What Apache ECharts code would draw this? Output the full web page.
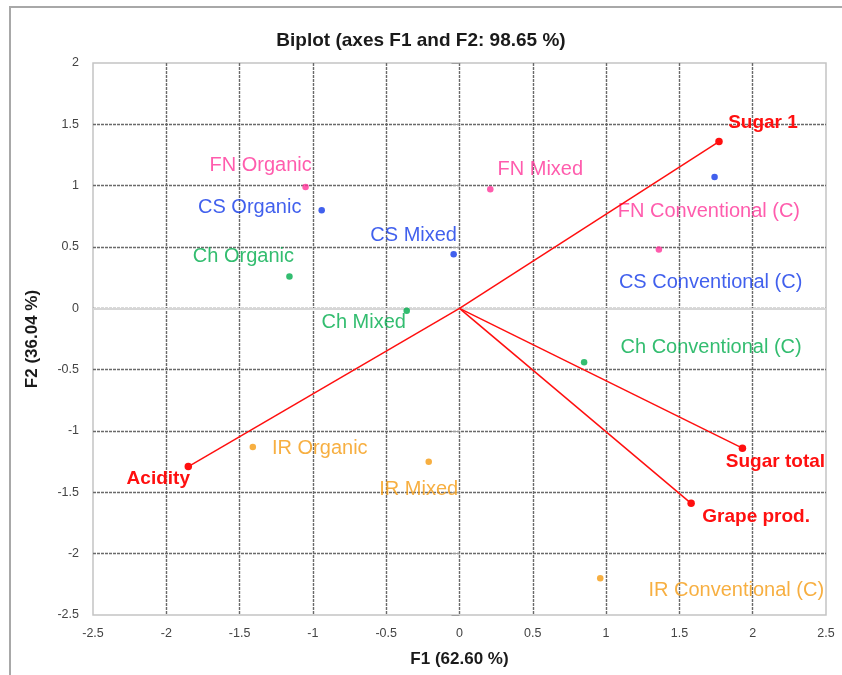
<!DOCTYPE html>
<html>
<head>
<meta charset="utf-8">
<script src="https://cdn.jsdelivr.net/npm/echarts@6/dist/echarts.min.js"></script>
<style>
html,body{margin:0;padding:0;background:#fff;}
#c{width:842px;height:675px;}
</style>
</head>
<body>
<div id="c"></div>
<script>
// Observations (F1, F2)
const obsNames = ['FN Organic','CS Organic','Ch Organic','CS Mixed','Ch Mixed','FN Mixed',
  'FN Conventional (C)','CS Conventional (C)','Ch Conventional (C)','IR Organic','IR Mixed','IR Conventional (C)'];
const obsF1 = [-1.05,-0.94,-1.16,-0.04,-0.36,0.21,1.36,1.74,0.85,-1.41,-0.21,0.96];
const obsF2 = [0.99,0.80,0.26,0.44,-0.02,0.97,0.48,1.07,-0.44,-1.13,-1.25,-2.20];

// Variables (loadings)
const varNames = ['Sugar 1','Sugar total','Grape prod.','Acidity'];
const varF1 = [1.77,1.93,1.58,-1.85];
const varF2 = [1.36,-1.14,-1.59,-1.29];

// Axis ticks
const xTicks = [-2.5,-2,-1.5,-1,-0.5,0,0.5,1,1.5,2,2.5];
const yTicks = [-2.5,-2,-1.5,-1,-0.5,0,0.5,1,1.5,2];

// ---- styling / layout (not data) ----
const groupColors = {FN:'#ff3399', CS:'#1238e8', Ch:'#00ad4c', IR:'#f59b12'};
const red = '#ff0f0f';
const obsLabelOffsets = [[-45,-21],[-72,-3],[-46,-20],[-40,-19],[-43,12],[50,-20],
  [50,-38],[-4,105],[127,-15],[67,2],[-10,28],[136,12]];
const varLabelOffsets = [[44,-19],[33,14],[65,13],[-30,12]];

const font = "'Liberation Sans', Arial, sans-serif";

const series = [];
series.push({
  type:'scatter',
  z:3,
  symbol:'circle',
  symbolSize:6.5,
  data: obsNames.map((n,i)=>({
    value:[obsF1[i],obsF2[i]],
    name:n,
    itemStyle:{color:groupColors[n.slice(0,2)]},
    label:{show:true, formatter:n, position:'inside', offset:obsLabelOffsets[i],
      align:'center', verticalAlign:'middle',
      color:groupColors[n.slice(0,2)], fontSize:20, fontFamily:font}
  })),
  markLine:{
    silent:true, symbol:'none', z:1,
    label:{show:false},
    lineStyle:{color:'#d6d6d6', width:2, type:'solid'},
    data:[{yAxis:0}]
  }
});
varNames.forEach((n,i)=>{
  series.push({
    type:'line',
    z:4,
    data:[
      {value:[0,0], symbol:'none'},
      {value:[varF1[i],varF2[i]], symbol:'circle', symbolSize:7.5,
        label:{show:true, formatter:n, position:'inside', offset:varLabelOffsets[i],
          align:'center', verticalAlign:'middle',
          color:red, fontSize:19, fontWeight:'bold', fontFamily:font}}
    ],
    showAllSymbol:true,
    lineStyle:{color:red, width:1.5},
    itemStyle:{color:red},
    animation:false
  });
});

const chart = echarts.init(document.getElementById('c'));
chart.setOption({
  animation:false,
  backgroundColor:'#fff',
  title:{
    text:'Biplot (axes F1 and F2: 98.65 %)',
    left:'center', top:26,
    textStyle:{fontSize:19, fontWeight:'bold', color:'#1a1a1a', fontFamily:font}
  },
  graphic:[{
    type:'rect', silent:true, z:-10,
    shape:{x:10,y:7,width:900,height:700},
    style:{fill:'none', stroke:'#a8a8a8', lineWidth:2}
  }],
  grid:{left:93, right:16, top:63, bottom:60, show:true, borderColor:'#c4c4c4', borderWidth:1.5},
  xAxis:{
    type:'value', min:xTicks[0], max:xTicks[xTicks.length-1], interval:0.5,
    name:'F1 (62.60 %)', nameLocation:'middle', nameGap:36,
    nameTextStyle:{fontSize:17, fontWeight:'bold', color:'#1a1a1a', fontFamily:font},
    axisLine:{show:false},
    axisTick:{show:false},
    axisLabel:{fontSize:12.5, color:'#444', margin:12, fontFamily:font},
    splitLine:{show:true, showMinLine:false, showMaxLine:false,
      lineStyle:{color:'#6a6a6a', width:1.4, type:[3,1]}}
  },
  yAxis:{
    type:'value', min:yTicks[0], max:yTicks[yTicks.length-1], interval:0.5,
    name:'F2 (36.04 %)', nameLocation:'middle', nameGap:52, nameRotate:90,
    nameTextStyle:{fontSize:17, fontWeight:'bold', color:'#1a1a1a', fontFamily:font},
    axisLine:{show:false},
    axisTick:{show:true, length:8, lineStyle:{color:'#a0a0a0'}},
    axisLabel:{fontSize:12.5, color:'#444', margin:14, fontFamily:font},
    splitLine:{show:true, showMinLine:false, showMaxLine:false,
      lineStyle:{color:'#6a6a6a', width:1.4, type:[3,1]}}
  },
  series:series
});
</script>
</body>
</html>
